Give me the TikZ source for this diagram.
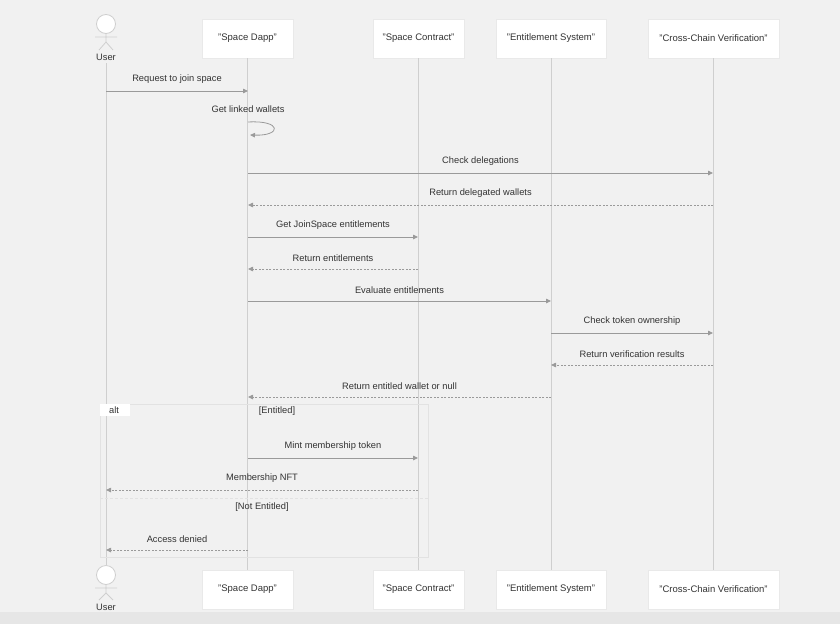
\documentclass[tikz,border=0pt]{standalone}
\usepackage{fontspec}
\setmainfont{Liberation Sans}
\usetikzlibrary{arrows.meta}
\definecolor{bg}{HTML}{F1F1F1}
\definecolor{band}{HTML}{E6E6E6}
\definecolor{life}{HTML}{CFCFCF}
\definecolor{msg}{HTML}{9A9A9A}
\definecolor{txt}{HTML}{333333}
\definecolor{boxline}{HTML}{E9E9E9}
\definecolor{altline}{HTML}{E2E2E2}
\tikzset{
  part/.style={draw=boxline, fill=white, minimum height=39pt, inner sep=0pt, font=\fontsize{9.5}{11}\selectfont, text=txt},
  lifeline/.style={draw=life, line width=0.9pt},
  call/.style={draw=msg, line width=0.8pt, -{Triangle[length=5pt,width=4.5pt]}},
  reply/.style={draw=msg, line width=0.8pt, dash pattern=on 2pt off 1.5pt, -{Triangle[length=5pt,width=4.5pt]}},
  lbl/.style={font=\fontsize{9.3}{11}\selectfont, text=txt, inner sep=1pt},
  actor/.style={draw=life, line width=0.8pt},
}
\begin{document}
\begin{tikzpicture}[x=1pt,y=-1pt]
\useasboundingbox (0,0) rectangle (840,624);
\fill[bg] (0,0) rectangle (840,624);
\fill[band] (0,612) rectangle (840,624);
% participants top
\node[part, minimum width=91pt] (dT) at (247.5,38.5) {"Space Dapp"};
\node[part, minimum width=91pt] (cT) at (418.5,38.5) {"Space Contract"};
\node[part, minimum width=110pt] (eT) at (551,38.5) {"Entitlement System"};
\node[part, minimum width=131pt] (xT) at (713.5,38.5) {"Cross-Chain Verification"};
% participants bottom
\node[part, minimum width=91pt] (dB) at (247.5,589.5) {"Space Dapp"};
\node[part, minimum width=91pt] (cB) at (418.5,589.5) {"Space Contract"};
\node[part, minimum width=110pt] (eB) at (551,589.5) {"Entitlement System"};
\node[part, minimum width=131pt] (xB) at (713.5,589.5) {"Cross-Chain Verification"};
% actors
\coordinate (uT) at (106,63);
\coordinate (uB) at (106,565);
\node[lbl] (uTl) at (106,57) {User};
\node[lbl] (uBl) at (106,607) {User};
\draw[actor, fill=white] (106,24) circle (9.5);
\draw[actor] (106,33.5) -- (106,42) (95,37) -- (117,37) (106,42) -- (99,50) (106,42) -- (113,50);
\draw[actor, fill=white] (106,575) circle (9.5);
\draw[actor] (106,584.5) -- (106,593) (95,588) -- (117,588) (106,593) -- (99,600) (106,593) -- (113,600);
% lifelines
\draw[lifeline] (uT) -- (uB);
\draw[lifeline] (dT.south) -- (dB.north);
\draw[lifeline] (cT.south) -- (cB.north);
\draw[lifeline] (eT.south) -- (eB.north);
\draw[lifeline] (xT.south) -- (xB.north);
% message anchors
\foreach \n/\y in {1/91,3/173,4/205,5/237,6/269,7/301,8/333,9/365,10/397,11/458,12/490,13/550}{
  \coordinate (u\n) at (106,\y);
  \coordinate (d\n) at (248,\y);
  \coordinate (c\n) at (418,\y);
  \coordinate (e\n) at (551,\y);
  \coordinate (x\n) at (713,\y);
}
% alt frame
\draw[altline, line width=0.7pt] (100,404) rectangle (428,557);
\draw[altline, line width=0.7pt, dash pattern=on 3pt off 2pt] (100,498) -- (428,498);
\fill[white] (100,404) rectangle (130,416);
\node[lbl] (altl) at (114,410.5) {alt};
\node[lbl] (g1) at (277,411) {[Entitled]};
\node[lbl] (g2) at (262,507) {[Not Entitled]};
% messages
\draw[call] (u1) -- (d1) node[lbl, midway, above=6pt] {Request to join space};
\node[lbl] (selfl) at (248,109) {Get linked wallets};
\draw[call] (248,122) .. controls (282,120) and (282,136) .. (250,135);
\draw[call] (d3) -- (x3) node[lbl, midway, above=6pt] {Check delegations};
\draw[reply] (x4) -- (d4) node[lbl, midway, above=6pt] {Return delegated wallets};
\draw[call] (d5) -- (c5) node[lbl, midway, above=6pt] {Get JoinSpace entitlements};
\draw[reply] (c6) -- (d6) node[lbl, midway, above=6pt] {Return entitlements};
\draw[call] (d7) -- (e7) node[lbl, midway, above=6pt] {Evaluate entitlements};
\draw[call] (e8) -- (x8) node[lbl, midway, above=6pt] {Check token ownership};
\draw[reply] (x9) -- (e9) node[lbl, midway, above=6pt] {Return verification results};
\draw[reply] (e10) -- (d10) node[lbl, midway, above=6pt] {Return entitled wallet or null};
\draw[call] (d11) -- (c11) node[lbl, midway, above=6pt] {Mint membership token};
\draw[reply] (c12) -- (u12) node[lbl, midway, above=6pt] {Membership NFT};
\draw[reply] (d13) -- (u13) node[lbl, midway, above=6pt] {Access denied};
\end{tikzpicture}
\end{document}
